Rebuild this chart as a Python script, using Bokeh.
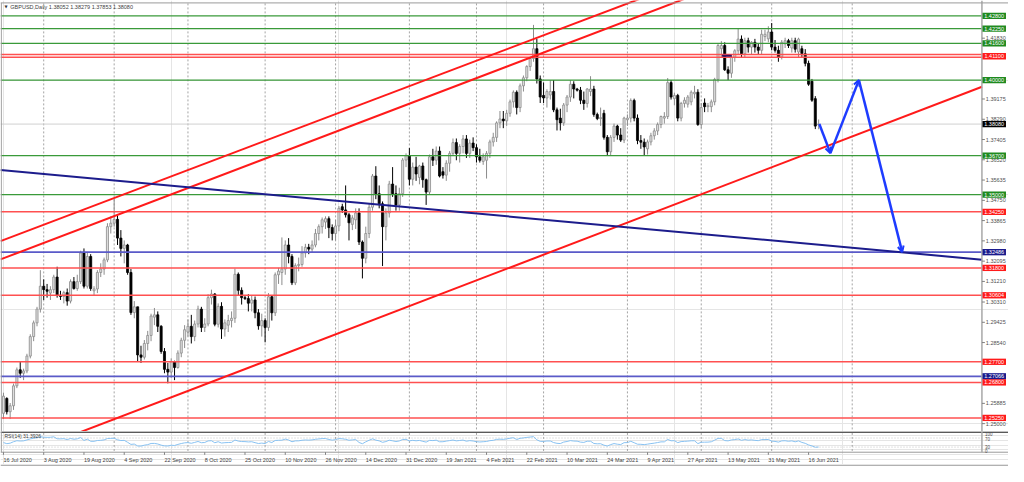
import numpy as np
from bokeh.plotting import figure
from bokeh.layouts import column
from bokeh.models import Range1d, Arrow, OpenHead
from bokeh.core.properties import value
from bokeh.embed import file_html
from bokeh.resources import INLINE

FONT = "Liberation Sans"

# ---------------- data ----------------
date_labels = ["16 Jul 2020", "3 Aug 2020", "19 Aug 2020", "4 Sep 2020", "22 Sep 2020",
               "8 Oct 2020", "25 Oct 2020", "10 Nov 2020", "26 Nov 2020", "14 Dec 2020",
               "31 Dec 2020", "19 Jan 2021", "4 Feb 2021", "22 Feb 2021", "10 Mar 2021",
               "24 Mar 2021", "9 Apr 2021", "27 Apr 2021", "13 May 2021", "31 May 2021",
               "16 Jun 2021"]
date_label_bars = [0, 12, 24, 36, 48, 60, 72, 84, 96, 108, 120, 132, 144, 156, 168,
                   180, 192, 204, 216, 228, 240]
month_start_bars = [12, 33, 55, 78, 99, 121, 141, 161, 186, 208, 229, 253]

opens = [
    1.2545, 1.2610, 1.2552, 1.2578, 1.2665, 1.2735, 1.2720, 1.2730, 1.2795, 1.2880,
    1.2940, 1.3000, 1.3100, 1.3085, 1.3070, 1.3085, 1.3140, 1.3060, 1.3055, 1.3072,
    1.3035, 1.3120, 1.3090, 1.3120, 1.3245, 1.3100, 1.3230, 1.3080, 1.3088, 1.3160,
    1.3175, 1.3215, 1.3360, 1.3375, 1.3392, 1.3310, 1.3265, 1.3280, 1.3160, 1.2985,
    1.3010, 1.2800, 1.2790, 1.2850, 1.2885, 1.2965, 1.2975, 1.2925, 1.2815, 1.2737,
    1.2725, 1.2770, 1.2745, 1.2808, 1.2864, 1.2900, 1.2925, 1.2880, 1.2935, 1.3000,
    1.2920, 1.2935, 1.3050, 1.3066, 1.2934, 1.3012, 1.2913, 1.2930, 1.2950, 1.2960,
    1.3152, 1.3082, 1.3050, 1.3046, 1.3026, 1.3040, 1.2984, 1.2927, 1.2950, 1.2920,
    1.3054, 1.2984, 1.3150, 1.3160, 1.3175, 1.3280, 1.3230, 1.3115, 1.3190, 1.3195,
    1.3245, 1.3270, 1.3262, 1.3280, 1.3330, 1.3360, 1.3380, 1.3395, 1.3356, 1.3330,
    1.3363, 1.3447, 1.3433, 1.3412, 1.3370, 1.3390, 1.3420, 1.3293, 1.3222, 1.3330,
    1.3445, 1.3581, 1.3504, 1.3460, 1.3360, 1.3420, 1.3546, 1.3504, 1.3455, 1.3504,
    1.3651, 1.3670, 1.3567, 1.3620, 1.3575, 1.3625, 1.3565, 1.3511, 1.3665, 1.3650,
    1.3690, 1.3600, 1.3585, 1.3637, 1.3680, 1.3727, 1.3680, 1.3710, 1.3743, 1.3680,
    1.3725, 1.3705, 1.3665, 1.3645, 1.3650, 1.3680, 1.3730, 1.3750, 1.3813, 1.3830,
    1.3822, 1.3855, 1.3905, 1.3947, 1.3880, 1.3975, 1.4010, 1.4059, 1.4094, 1.4137,
    1.4005, 1.3933, 1.3922, 1.3935, 1.3950, 1.3870, 1.3834, 1.3813, 1.3891, 1.3926,
    1.3982, 1.3961, 1.3956, 1.3912, 1.3898, 1.3950, 1.3961, 1.3850, 1.3832, 1.3855,
    1.3750, 1.3687, 1.3750, 1.3799, 1.3760, 1.3738, 1.3827, 1.3834, 1.3911, 1.3834,
    1.3736, 1.3729, 1.3700, 1.3730, 1.3757, 1.3778, 1.3806, 1.3834, 1.3841, 1.3989,
    1.3919, 1.3933, 1.3834, 1.3898, 1.3895, 1.3905, 1.3940, 1.3947, 1.3806, 1.3900,
    1.3884, 1.3884, 1.3905, 1.4003, 1.4137, 1.4151, 1.4045, 1.4030, 1.4100, 1.4128,
    1.4179, 1.4115, 1.4172, 1.4144, 1.4165, 1.4144, 1.4130, 1.4190, 1.4180, 1.4210,
    1.4144, 1.4130, 1.4101, 1.4158, 1.4172, 1.4140, 1.4172, 1.4123, 1.4137, 1.4115,
    1.4073, 1.3995, 1.3919, 1.38052]
highs = [
    1.2635, 1.2615, 1.2590, 1.2675, 1.2745, 1.2770, 1.2740, 1.2805, 1.2890, 1.2950,
    1.3010, 1.3170, 1.3130, 1.3110, 1.3100, 1.3150, 1.3185, 1.3080, 1.3080, 1.3090,
    1.3130, 1.3140, 1.3150, 1.3255, 1.3265, 1.3245, 1.3240, 1.3100, 1.3170, 1.3200,
    1.3225, 1.3375, 1.3405, 1.3482, 1.3410, 1.3345, 1.3300, 1.3285, 1.3175, 1.3035,
    1.3010, 1.2840, 1.2865, 1.2905, 1.2980, 1.3005, 1.2990, 1.2930, 1.2830, 1.2765,
    1.2785, 1.2775, 1.2820, 1.2875, 1.2930, 1.2955, 1.2975, 1.2950, 1.3015, 1.3010,
    1.2960, 1.3065, 1.3085, 1.3070, 1.3025, 1.3030, 1.2955, 1.2975, 1.2990, 1.3177,
    1.3160, 1.3095, 1.3058, 1.3065, 1.3060, 1.3055, 1.3000, 1.2980, 1.2960, 1.3070,
    1.3060, 1.3160, 1.3180, 1.3313, 1.3300, 1.3310, 1.3240, 1.3200, 1.3225, 1.3275,
    1.3285, 1.3285, 1.3300, 1.3350, 1.3370, 1.3400, 1.3405, 1.3405, 1.3370, 1.3390,
    1.3450, 1.3460, 1.3540, 1.3420, 1.3410, 1.3440, 1.3440, 1.3300, 1.3360, 1.3460,
    1.3590, 1.3624, 1.3540, 1.3470, 1.3440, 1.3560, 1.3620, 1.3540, 1.3530, 1.3660,
    1.3680, 1.3703, 1.3640, 1.3665, 1.3630, 1.3640, 1.3570, 1.3675, 1.3700, 1.3710,
    1.3710, 1.3620, 1.3650, 1.3690, 1.3745, 1.3745, 1.3720, 1.3760, 1.3760, 1.3740,
    1.3750, 1.3720, 1.3700, 1.3680, 1.3690, 1.3740, 1.3770, 1.3820, 1.3865, 1.3865,
    1.3870, 1.3915, 1.3955, 1.3955, 1.3985, 1.4020, 1.4065, 1.4100, 1.4241, 1.4180,
    1.4020, 1.3990, 1.3960, 1.4000, 1.4000, 1.3880, 1.3875, 1.3900, 1.3935, 1.4000,
    1.3995, 1.3966, 1.3970, 1.3950, 1.3965, 1.4017, 1.3975, 1.3858, 1.3880, 1.3870,
    1.3760, 1.3760, 1.3810, 1.3805, 1.3790, 1.3840, 1.3850, 1.3920, 1.3919, 1.3850,
    1.3760, 1.3745, 1.3740, 1.3770, 1.3790, 1.3815, 1.3845, 1.3860, 1.4009, 1.4000,
    1.3945, 1.3940, 1.3905, 1.3925, 1.3935, 1.3955, 1.3975, 1.3960, 1.3900, 1.3920,
    1.3900, 1.3915, 1.4010, 1.4160, 1.4170, 1.4165, 1.4060, 1.4110, 1.4135, 1.4225,
    1.4195, 1.4185, 1.4185, 1.4170, 1.4180, 1.4160, 1.4220, 1.4220, 1.4235, 1.4249,
    1.4175, 1.4150, 1.4175, 1.4185, 1.4180, 1.4185, 1.4185, 1.4185, 1.4150, 1.4135,
    1.4085, 1.4005, 1.3930, 1.38279]
lows = [
    1.2520, 1.2540, 1.2520, 1.2560, 1.2655, 1.2700, 1.2690, 1.2720, 1.2785, 1.2860,
    1.2925, 1.2985, 1.3040, 1.3050, 1.3040, 1.3070, 1.3050, 1.3040, 1.3025, 1.3015,
    1.3025, 1.3085, 1.3080, 1.3110, 1.3090, 1.3090, 1.3080, 1.3060, 1.3070, 1.3140,
    1.3150, 1.3205, 1.3330, 1.3360, 1.3280, 1.3230, 1.3200, 1.3150, 1.2975, 1.2960,
    1.2770, 1.2765, 1.2780, 1.2820, 1.2860, 1.2930, 1.2900, 1.2805, 1.2720, 1.2676,
    1.2700, 1.2690, 1.2740, 1.2790, 1.2830, 1.2880, 1.2850, 1.2860, 1.2920, 1.2900,
    1.2900, 1.2925, 1.3020, 1.2925, 1.2920, 1.2870, 1.2880, 1.2900, 1.2920, 1.2940,
    1.3060, 1.3020, 1.3040, 1.2990, 1.2990, 1.2960, 1.2910, 1.2880, 1.2855, 1.2905,
    1.2950, 1.2970, 1.3110, 1.3105, 1.3150, 1.3200, 1.3105, 1.3105, 1.3165, 1.3185,
    1.3225, 1.3240, 1.3245, 1.3270, 1.3300, 1.3330, 1.3350, 1.3310, 1.3300, 1.3300,
    1.3340, 1.3420, 1.3400, 1.3300, 1.3345, 1.3350, 1.3280, 1.3134, 1.3200, 1.3310,
    1.3430, 1.3480, 1.3440, 1.3188, 1.3300, 1.3400, 1.3490, 1.3430, 1.3430, 1.3490,
    1.3620, 1.3540, 1.3540, 1.3560, 1.3545, 1.3530, 1.3455, 1.3500, 1.3625, 1.3630,
    1.3575, 1.3570, 1.3560, 1.3600, 1.3670, 1.3650, 1.3640, 1.3680, 1.3660, 1.3660,
    1.3690, 1.3640, 1.3640, 1.3630, 1.3570, 1.3660, 1.3710, 1.3730, 1.3790, 1.3790,
    1.3800, 1.3840, 1.3880, 1.3850, 1.3860, 1.3950, 1.3995, 1.4040, 1.4080, 1.3985,
    1.3900, 1.3900, 1.3880, 1.3915, 1.3860, 1.3780, 1.3780, 1.3800, 1.3860, 1.3905,
    1.3920, 1.3950, 1.3895, 1.3870, 1.3880, 1.3930, 1.3840, 1.3825, 1.3800, 1.3740,
    1.3670, 1.3672, 1.3730, 1.3740, 1.3730, 1.3725, 1.3800, 1.3815, 1.3820, 1.3720,
    1.3700, 1.3670, 1.3675, 1.3715, 1.3740, 1.3760, 1.3790, 1.3810, 1.3830, 1.3915,
    1.3890, 1.3820, 1.3820, 1.3880, 1.3880, 1.3890, 1.3920, 1.3800, 1.3790, 1.3860,
    1.3860, 1.3860, 1.3890, 1.3990, 1.4100, 1.4040, 1.4000, 1.4010, 1.4080, 1.4110,
    1.4100, 1.4100, 1.4120, 1.4110, 1.4120, 1.4110, 1.4110, 1.4170, 1.4165, 1.4130,
    1.4120, 1.4080, 1.4090, 1.4140, 1.4140, 1.4120, 1.4120, 1.4100, 1.4100, 1.4060,
    1.3975, 1.3905, 1.3786, 1.37853]
closes = [
    1.2620, 1.2552, 1.2578, 1.2665, 1.2735, 1.2720, 1.2730, 1.2795, 1.2880, 1.2940,
    1.3000, 1.3100, 1.3085, 1.3078, 1.3085, 1.3140, 1.3060, 1.3055, 1.3072, 1.3035,
    1.3120, 1.3090, 1.3120, 1.3245, 1.3100, 1.3230, 1.3090, 1.3088, 1.3160, 1.3175,
    1.3215, 1.3360, 1.3375, 1.3392, 1.3310, 1.3265, 1.3280, 1.3160, 1.2985, 1.3010,
    1.2800, 1.2790, 1.2850, 1.2885, 1.2970, 1.2975, 1.2925, 1.2815, 1.2737, 1.2725,
    1.2770, 1.2745, 1.2808, 1.2864, 1.2910, 1.2925, 1.2880, 1.2935, 1.3000, 1.2920,
    1.2935, 1.3050, 1.3066, 1.2934, 1.3012, 1.2913, 1.2940, 1.2950, 1.2960, 1.3152,
    1.3082, 1.3050, 1.3046, 1.3026, 1.3040, 1.2984, 1.2927, 1.2950, 1.2920, 1.3054,
    1.2984, 1.3150, 1.3166, 1.3175, 1.3280, 1.3230, 1.3115, 1.3190, 1.3195, 1.3245,
    1.3270, 1.3262, 1.3280, 1.3330, 1.3360, 1.3390, 1.3395, 1.3356, 1.3330, 1.3363,
    1.3440, 1.3433, 1.3412, 1.3377, 1.3398, 1.3420, 1.3293, 1.3222, 1.3330, 1.3445,
    1.3581, 1.3504, 1.3460, 1.3360, 1.3420, 1.3546, 1.3504, 1.3455, 1.3504, 1.3651,
    1.3670, 1.3567, 1.3620, 1.3590, 1.3625, 1.3565, 1.3511, 1.3665, 1.3650, 1.3690,
    1.3581, 1.3585, 1.3637, 1.3680, 1.3727, 1.3680, 1.3710, 1.3743, 1.3680, 1.3725,
    1.3705, 1.3665, 1.3650, 1.3665, 1.3680, 1.3730, 1.3750, 1.3813, 1.3830, 1.3822,
    1.3855, 1.3905, 1.3947, 1.3880, 1.3975, 1.4010, 1.4059, 1.4094, 1.4137, 1.4005,
    1.3926, 1.3922, 1.3950, 1.3950, 1.3870, 1.3827, 1.3813, 1.3891, 1.3926, 1.3982,
    1.3961, 1.3956, 1.3912, 1.3898, 1.3961, 1.3961, 1.3850, 1.3832, 1.3836, 1.3750,
    1.3687, 1.3750, 1.3799, 1.3760, 1.3738, 1.3834, 1.3834, 1.3911, 1.3834, 1.3736,
    1.3729, 1.3708, 1.3730, 1.3757, 1.3778, 1.3806, 1.3841, 1.3841, 1.3989, 1.3926,
    1.3933, 1.3834, 1.3898, 1.3912, 1.3926, 1.3947, 1.3947, 1.3806, 1.3880, 1.3884,
    1.3888, 1.3905, 1.4003, 1.4151, 1.4151, 1.4045, 1.4030, 1.4100, 1.4128, 1.4179,
    1.4115, 1.4172, 1.4144, 1.4165, 1.4144, 1.4130, 1.4200, 1.4200, 1.4210, 1.4144,
    1.4130, 1.4100, 1.4165, 1.4172, 1.4151, 1.4172, 1.4135, 1.4179, 1.4116, 1.4073,
    1.3982, 1.3912, 1.3799, 1.38080]

green_levels = [1.4280, 1.4225, 1.4160, 1.4000, 1.3670, 1.3500]
red_levels = [1.4112, 1.4100, 1.3425, 1.3180, 1.30604, 1.2770, 1.2680, 1.2525]
blue_levels = [1.32486, 1.27066]

tag_text = ["1.42800", "1.42250", "1.41600", "1.41100", "1.40000", "1.38080", "1.36700",
            "1.35000", "1.34250", "1.32486", "1.31800", "1.30604", "1.27700", "1.27066",
            "1.26800", "1.25250"]
tag_price = [1.4280, 1.4225, 1.4160, 1.4104, 1.4000, 1.3808, 1.3670, 1.3500, 1.3425,
             1.32486, 1.3180, 1.30604, 1.2770, 1.27066, 1.2680, 1.2525]
tag_kind = ["g", "g", "g", "r", "g", "k", "g", "g", "r", "b", "r", "r", "r", "b", "r", "r"]

scale_ticks = [1.41830, 1.39175, 1.38290, 1.37405, 1.36520, 1.35635, 1.34750, 1.33865,
               1.32980, 1.32095, 1.31210, 1.30310, 1.29425, 1.28540, 1.25885, 1.25000]

# drawn objects: (bar index, price) anchors
channel_upper_bars, channel_upper_prices = [-0.88, 204.5], [1.3297, 1.4437]
channel_mid_bars, channel_mid_prices = [-0.88, 219.2], [1.3217, 1.4445]
channel_low_bars, channel_low_prices = [16.7, 291.7], [1.2428, 1.3971]
navy_bars, navy_prices = [-0.88, 291.7], [1.3607, 1.3216]
forecast_bars = [243.2, 246.5, 255.0, 267.9]
forecast_prices = [1.3808, 1.3681, 1.4000, 1.3249]
marker_bars, marker_price = [214.2, 217.1], 1.4106
bid_price = 1.38080
rsi_levels = [70, 30]
rsi_title = "RSI(14) 31.3926"
chart_title = "GBPUSD,Daily  1.38052 1.38279 1.37853 1.38080"

# ---------------- layout helpers (reference-pixel geometry) ----------------
def bx(xref):
    return (xref - 3.0) / 3.408

def py(yref):
    return 1.428 - (yref - 16.0) / 2370.0

X_LEFT, X_RIGHT, X_AXIS = bx(0), bx(1024), bx(997)
W, H_MAIN, H_BOT = 1008, 431, 35

GREEN, RED, BLUE = "#3a9a3a", "#ff5050", "#5a5ac8"
TAG_COL = {"g": "#1f8a1f", "r": "#ff1a1a", "b": "#1a1a8c", "k": "#000000"}
GRID = "#a4a4a4"

bars = list(range(len(closes)))
o, h, l, c = map(np.array, (opens, highs, lows, closes))
up = c >= o

p = figure(width=W, height=H_MAIN, x_range=Range1d(X_LEFT, X_RIGHT),
           y_range=Range1d(py(446), py(0)), output_backend="svg", toolbar_location=None,
           x_axis_location=None, y_axis_location=None, min_border=0,
           outline_line_color=None, background_fill_color="white", border_fill_color="white")

# month grid
p.segment(x0=month_start_bars, x1=month_start_bars, y0=py(3), y1=py(446),
          line_color=GRID, line_width=1, line_dash="2 2")
# bid line
p.segment(x0=X_LEFT, x1=X_AXIS, y0=bid_price, y1=bid_price, line_color="#d0d0d0", line_width=1)

# candles
bu = [i for i in bars if up[i]]
bd = [i for i in bars if not up[i]]
p.segment(x0=bu, x1=bu, y0=l[bu], y1=h[bu], line_color="#8c8c8c", line_width=1)
p.segment(x0=bd, x1=bd, y0=l[bd], y1=h[bd], line_color="#000000", line_width=1)
p.vbar(x=bu, width=0.62, top=np.maximum(o, c)[bu], bottom=np.minimum(o, c)[bu],
       fill_color="#dedede", line_color="#8c8c8c", line_width=0.8)
p.vbar(x=bd, width=0.62, top=np.maximum(o, c)[bd], bottom=np.minimum(o, c)[bd],
       fill_color="#000000", line_color="#000000", line_width=0.8)

# horizontal levels
for lv, col, lw in ((green_levels, GREEN, 1.3), (red_levels, RED, 1.5), (blue_levels, BLUE, 1.8)):
    p.segment(x0=[X_LEFT] * len(lv), x1=[X_AXIS] * len(lv), y0=lv, y1=lv,
              line_color=col, line_width=lw)

# trend lines
p.line(channel_upper_bars, channel_upper_prices, line_color="#ff1a1a", line_width=2)
p.line(channel_mid_bars, channel_mid_prices, line_color="#ff1a1a", line_width=2)
p.line(channel_low_bars, channel_low_prices, line_color="#ff1a1a", line_width=2)
p.line(navy_bars, navy_prices, line_color="#1c1c8c", line_width=2)
p.line(marker_bars, [marker_price, marker_price], line_color="#3a1060", line_width=2)

# forecast arrows
for k in range(len(forecast_bars) - 1):
    p.add_layout(Arrow(end=OpenHead(size=6, line_color="#1e3cff", line_width=2),
                       x_start=forecast_bars[k], y_start=forecast_prices[k],
                       x_end=forecast_bars[k + 1], y_end=forecast_prices[k + 1],
                       line_color="#1e3cff", line_width=2.5))

# price scale
p.segment(x0=X_AXIS, x1=X_AXIS, y0=py(0), y1=py(446), line_color="#a8a8a8", line_width=1.5)
p.segment(x0=[X_AXIS] * len(scale_ticks), x1=[bx(1000)] * len(scale_ticks),
          y0=scale_ticks, y1=scale_ticks, line_color="#808080", line_width=1)
p.text(x=[bx(1001)] * len(scale_ticks), y=scale_ticks, text=[f"{v:.5f}" for v in scale_ticks],
       text_font=value(FONT), text_font_size="5.5px", text_color="#505050",
       text_align="left", text_baseline="middle")
p.rect(x=[bx(1009.5)] * len(tag_price), y=tag_price, width=23.5, height=6.3,
       width_units="screen", height_units="screen",
       fill_color=[TAG_COL[k] for k in tag_kind], line_color=None)
p.text(x=[bx(1009.5)] * len(tag_price), y=tag_price, text=tag_text,
       text_font=value(FONT), text_font_size="5.5px", text_color="white",
       text_align="center", text_baseline="middle")

# borders and title
p.segment(x0=X_LEFT, x1=X_RIGHT, y0=py(2.5), y1=py(2.5), line_color="#9a9a9a", line_width=1)
p.segment(x0=bx(0.8), x1=bx(0.8), y0=py(2.5), y1=py(446), line_color="#9a9a9a", line_width=1)
p.text(x=[bx(4)], y=[py(6.5)], text=["▼"], text_font=value("DejaVu Sans"),
       text_font_size="4px", text_color="#333333", text_align="left", text_baseline="middle")
p.text(x=[bx(10)], y=[py(6.5)], text=[chart_title], text_font=value(FONT),
       text_font_size="5.5px", text_color="#404040", text_align="left", text_baseline="middle")

# ---------------- RSI panel + time scale ----------------
d = np.diff(c)
gain = np.where(d > 0, d, 0.0)
loss = np.where(d < 0, -d, 0.0)
ag = al = float(np.mean(np.abs(d[:14]))) / 2
rsi = [50.0]
for gi, li in zip(gain, loss):
    ag = (ag * 13 + gi) / 14
    al = (al * 13 + li) / 14
    rsi.append(100 - 100 / (1 + ag / al))

p2 = figure(width=W, height=H_BOT, x_range=p.x_range, y_range=Range1d(482, 446),
            output_backend="svg", toolbar_location=None, x_axis_location=None,
            y_axis_location=None, min_border=0, outline_line_color=None,
            background_fill_color="white", border_fill_color="white")
p2.extra_y_ranges = {"rsi": Range1d((469 - 482) / 0.2325, (469 - 446) / 0.2325)}

p2.segment(x0=month_start_bars, x1=month_start_bars, y0=447.5, y1=467,
           line_color=GRID, line_width=1, line_dash="2 2")
p2.segment(x0=[X_LEFT] * 2, x1=[X_AXIS] * 2, y0=rsi_levels, y1=rsi_levels,
           y_range_name="rsi", line_color="#c4c4c4", line_width=1, line_dash="1 2")
p2.line(bars, rsi, y_range_name="rsi", line_color="#88c2f2", line_width=1)
p2.segment(x0=X_LEFT, x1=X_RIGHT, y0=446.6, y1=446.6, line_color="#5a5a5a", line_width=1.6)
p2.segment(x0=X_LEFT, x1=X_RIGHT, y0=467.3, y1=467.3, line_color="#9a9a9a", line_width=1)
p2.segment(x0=X_AXIS, x1=X_AXIS, y0=446, y1=467.3, line_color="#a8a8a8", line_width=1.5)
p2.segment(x0=bx(0.8), x1=bx(0.8), y0=446, y1=467.3, line_color="#9a9a9a", line_width=1)
p2.segment(x0=X_LEFT, x1=X_RIGHT, y0=481, y1=481, line_color="#b0b0b0", line_width=1)
p2.text(x=[bx(4)], y=[450.8], text=[rsi_title], text_font=value(FONT),
        text_font_size="5px", text_color="#404040", text_align="left", text_baseline="middle")
p2.text(x=[bx(1000)] * 4, y=[449.0, 453.3, 461.6, 465.6], text=["100", "70", "30", "0"],
        text_font=value(FONT), text_font_size="4.5px", text_color="#505050",
        text_align="left", text_baseline="middle")
p2.segment(x0=date_label_bars, x1=date_label_bars, y0=467.3, y1=470,
           line_color="#808080", line_width=1)
p2.text(x=date_label_bars, y=[475.5] * len(date_label_bars), text=date_labels,
        text_font=value(FONT), text_font_size="5.5px", text_color="#404040",
        text_align="left", text_baseline="middle")

layout = column(p, p2, spacing=0)
open("out.html", "w").write(file_html(layout, INLINE))
